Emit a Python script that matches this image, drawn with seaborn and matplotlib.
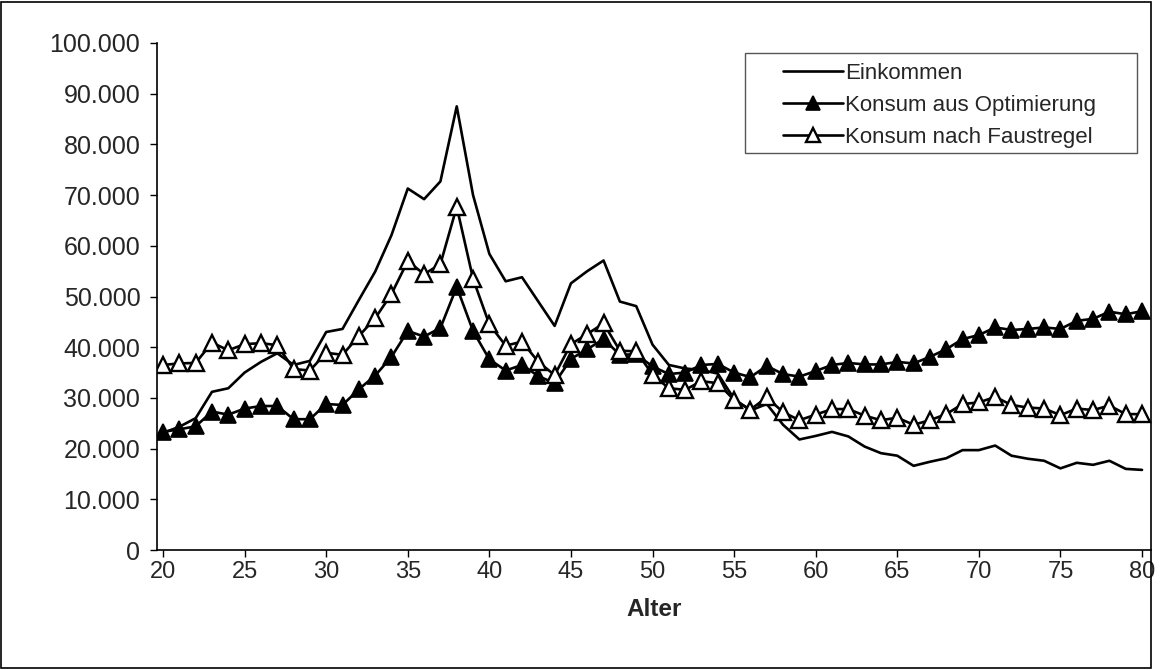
import matplotlib
matplotlib.use("Agg")
import matplotlib.pyplot as plt
import seaborn as sns
import pandas as pd
from matplotlib.patches import Rectangle
from matplotlib.ticker import FuncFormatter

# ---- data (values in thousands) ----
alter = list(range(20, 81))

einkommen = [23.1, 24.3, 26.0, 31.2, 31.9, 35.0, 37.1, 38.8, 36.5, 37.3,
             43.0, 43.6, 49.3, 54.9, 62.1, 71.3, 69.2, 72.7, 87.5, 70.0,
             58.4, 53.0, 53.8, 49.0, 44.2, 52.6, 55.0, 57.1, 49.0, 48.1,
             40.5, 36.5, 35.8, 35.5, 34.8, 29.8, 27.5, 28.8, 24.7, 21.8,
             22.5, 23.3, 22.4, 20.4, 19.1, 18.6, 16.6, 17.4, 18.1, 19.7,
             19.7, 20.6, 18.6, 18.0, 17.6, 16.1, 17.2, 16.8, 17.6, 16.0,
             15.8]

konsum_opt = [23.3, 23.8, 24.4, 27.3, 26.7, 27.9, 28.4, 28.4, 25.8, 25.8,
              28.8, 28.6, 31.7, 34.4, 38.1, 43.2, 42.1, 43.8, 51.9, 43.2,
              37.6, 35.4, 36.5, 34.3, 32.9, 37.7, 39.6, 41.6, 38.5, 38.6,
              36.2, 34.7, 35.0, 36.5, 36.7, 35.0, 34.1, 36.3, 34.7, 34.2,
              35.3, 36.5, 36.9, 36.6, 36.6, 37.1, 36.8, 38.1, 39.6, 41.6,
              42.4, 43.9, 43.4, 43.6, 43.9, 43.6, 45.2, 45.6, 47.0, 46.5,
              47.1]

konsum_faust = [36.5, 36.8, 36.9, 40.9, 39.4, 40.6, 40.8, 40.4, 35.7, 35.4,
                38.9, 38.5, 42.2, 45.7, 50.5, 57.0, 54.4, 56.4, 67.7, 53.5,
                44.5, 40.3, 41.1, 37.1, 34.5, 40.6, 42.6, 44.7, 39.3, 39.2,
                34.6, 31.9, 31.6, 33.3, 32.9, 29.6, 27.7, 30.1, 27.2, 25.6,
                26.7, 27.8, 27.8, 26.5, 25.6, 26.1, 24.7, 25.6, 26.8, 28.8,
                29.1, 30.2, 28.6, 28.1, 27.9, 26.6, 27.9, 27.6, 28.5, 26.8,
                26.8]

series_names = ["Einkommen", "Konsum aus Optimierung", "Konsum nach Faustregel"]
y_ticks = list(range(0, 101, 10))
x_ticks = list(range(20, 81, 5))

df = pd.DataFrame({"Alter": alter,
                   series_names[0]: einkommen,
                   series_names[1]: konsum_opt,
                   series_names[2]: konsum_faust})

sns.set_style("white")
plt.rcParams["font.family"] = ["Liberation Sans", "DejaVu Sans"]

W, H = 1160, 670
fig = plt.figure(figsize=(W / 100, H / 100), dpi=100)
L, R, T, B = 157, 1151, 43, 550
ax = fig.add_axes([L / W, 1 - B / H, (R - L) / W, (B - T) / H])

lw = 1.9
sns.lineplot(data=df, x="Alter", y=series_names[0], ax=ax, color="black",
             linewidth=lw, label=series_names[0])
sns.lineplot(data=df, x="Alter", y=series_names[1], ax=ax, color="black",
             linewidth=lw, marker="^", markersize=11.5,
             markerfacecolor="black", markeredgecolor="black",
             markeredgewidth=1.2, label=series_names[1])
sns.lineplot(data=df, x="Alter", y=series_names[2], ax=ax, color="black",
             linewidth=lw, marker="^", markersize=11.5,
             markerfacecolor="white", markeredgecolor="black",
             markeredgewidth=1.7, label=series_names[2])

fs = 16
ax.set_xlim(19.63, 80.55)
ax.set_ylim(0, 100)
ax.set_xticks(x_ticks)
ax.set_yticks(y_ticks)
ax.yaxis.set_major_formatter(
    FuncFormatter(lambda v, p: f"{int(round(v * 1000)):,}".replace(",", ".")))
ax.tick_params(axis="both", which="major", direction="out", length=5,
               width=1, color="black", left=True, bottom=True)
ax.tick_params(axis="x", labelsize=17, pad=3)
ax.tick_params(axis="y", labelsize=18, pad=7)
for s in ["top", "right"]:
    ax.spines[s].set_visible(False)
for s in ["left", "bottom"]:
    ax.spines[s].set_color("black")
    ax.spines[s].set_linewidth(1.2)
ax.set_xlabel("Alter", fontsize=17.5, fontweight="bold", labelpad=11)
ax.set_ylabel("")
ax.grid(False)

# legend: text entries placed by matplotlib, frame drawn separately
leg = ax.legend(loc="upper left",
                bbox_to_anchor=((783 - L) / (R - L), (B - 63) / (B - T)),
                borderaxespad=0, borderpad=0, frameon=False, fontsize=fs,
                handlelength=2.7, handletextpad=0.1, labelspacing=0.5,
                numpoints=1)
for h in leg.legend_handles:
    try:
        h.set_markersize(10.5)
    except Exception:
        pass
fig.patches.append(Rectangle((745 / W, 1 - 153 / H), (1137 - 745) / W, 100 / H,
                             transform=fig.transFigure, fill=False,
                             edgecolor="#555555", linewidth=1.0))

# outer chart border
fig.patches.append(Rectangle((1 / W, 2 / H), (R - 1) / W, (H - 4) / H,
                             transform=fig.transFigure, fill=False,
                             edgecolor="black", linewidth=1.2))

fig.savefig("out.png", dpi=100, facecolor="white")
